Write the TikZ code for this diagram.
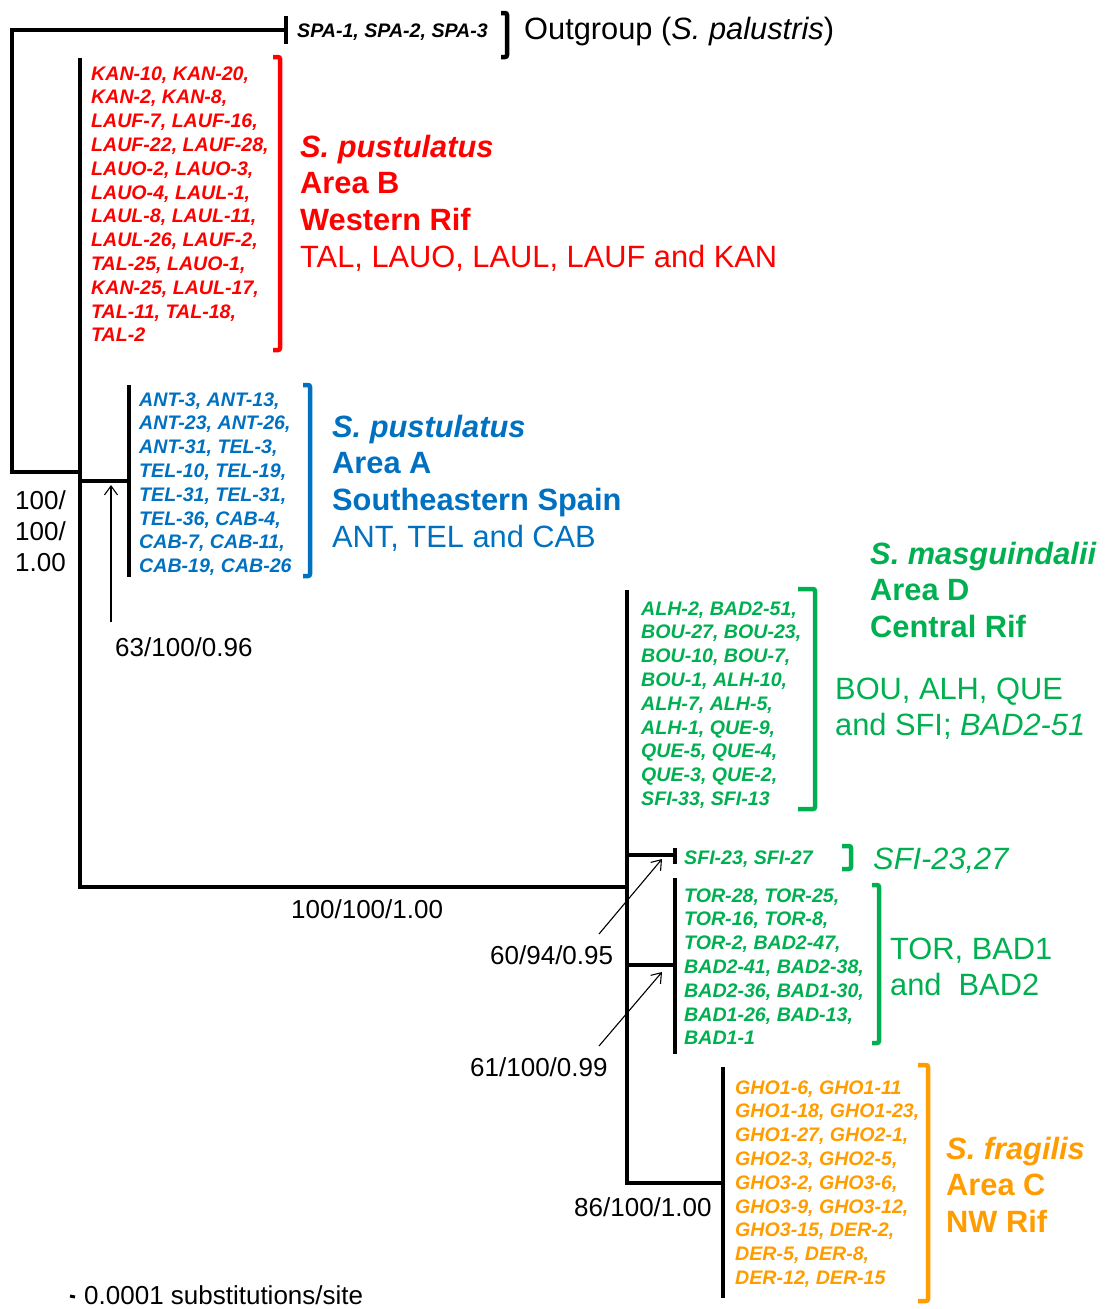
\documentclass[tikz,border=0pt]{standalone}
\usepackage{fontspec}
\setmainfont{Liberation Sans}
\usetikzlibrary{arrows.meta}
\definecolor{cRed}{HTML}{FF0000}
\definecolor{cBlue}{HTML}{0070C0}
\definecolor{cGreen}{HTML}{00B050}
\definecolor{cOrange}{HTML}{FF9C00}
\newcommand\fSmall{\fontsize{19.6}{23.8}\selectfont\bfseries\itshape}
\newcommand\fBig{\fontsize{30.8}{36.7}\selectfont}
\newcommand\fNum{\fontsize{26}{31}\selectfont}
\tikzset{
  tree/.style={line width=4.3pt, black},
  brk/.style={line width=4.5pt, rounded corners=2pt},
  lbl/.style={anchor=base west, inner sep=0pt, align=left, font=\fSmall},
  big/.style={anchor=base west, inner sep=0pt, align=left, font=\fBig},
  num/.style={anchor=base west, inner sep=0pt, align=left, font=\fNum},
  sup/.style={line width=1.1pt, -{Straight Barb[length=9pt,width=13pt,line width=1.1pt]}}
}
\begin{document}
\begin{tikzpicture}[x=1pt,y=-1pt]
\useasboundingbox (0,0) rectangle (1109,1309);
% ---------- tree coordinates ----------
\coordinate (rootT) at (12,30);
\coordinate (rootB) at (12,472);
\coordinate (outTip) at (286,30);
\coordinate (nB) at (80,472);
\coordinate (nBtop) at (80,58);
\coordinate (nBbot) at (80,887);
\coordinate (nA) at (80,481);
\coordinate (barA) at (129,481);
\coordinate (nR) at (627,887);
\coordinate (nRtop) at (627,590);
\coordinate (nRbot) at (627,1183);
\coordinate (nS) at (627,855);
\coordinate (tipS) at (675,855);
\coordinate (nT) at (627,965);
\coordinate (barT) at (675,965);
\coordinate (barC) at (723,1183);
% ---------- tree ----------
\draw[tree] (outTip) -- (rootT) -- (rootB) -- (nB);
\draw[tree] (286,16) -- (286,44);
\draw[tree] (nBtop) -- (nBbot) -- (nR);
\draw[tree] (nA) -- (barA);
\draw[tree] (129,385) -- (129,577);
\draw[tree] (nRtop) -- (nRbot) -- (barC);
\draw[tree] (nS) -- (tipS);
\draw[tree] (675,848) -- (675,864);
\draw[tree] (nT) -- (barT);
\draw[tree] (675,878) -- (675,1054);
\draw[tree] (723,1067) -- (723,1298);
% ---------- tip labels (anchor = baseline of LAST line) ----------
\node[lbl] (sp) at (297,37) {SPA-1, SPA-2, SPA-3};
\node[lbl, text=cRed] (redL) at (91,341.8) {KAN-10, KAN-20,\\KAN-2, KAN-8,\\LAUF-7, LAUF-16,\\LAUF-22, LAUF-28,\\LAUO-2, LAUO-3,\\LAUO-4, LAUL-1,\\LAUL-8, LAUL-11,\\LAUL-26, LAUF-2,\\TAL-25, LAUO-1,\\KAN-25, LAUL-17,\\TAL-11, TAL-18,\\TAL-2};
\node[lbl, text=cBlue] (blueL) at (139,572.6) {ANT-3, ANT-13,\\ANT-23, ANT-26,\\ANT-31, TEL-3,\\TEL-10, TEL-19,\\TEL-31, TEL-31,\\TEL-36, CAB-4,\\CAB-7, CAB-11,\\CAB-19, CAB-26};
\node[lbl, text=cGreen] (dL) at (641,805.4) {ALH-2, BAD2-51,\\BOU-27, BOU-23,\\BOU-10, BOU-7,\\BOU-1, ALH-10,\\ALH-7, ALH-5,\\ALH-1, QUE-9,\\QUE-5, QUE-4,\\QUE-3, QUE-2,\\SFI-33, SFI-13};
\node[lbl, text=cGreen] (sL) at (684,864) {SFI-23, SFI-27};
\node[lbl, text=cGreen] (tL) at (684,1044.8) {TOR-28, TOR-25,\\TOR-16, TOR-8,\\TOR-2, BAD2-47,\\BAD2-41, BAD2-38,\\BAD2-36, BAD1-30,\\BAD1-26, BAD-13,\\BAD1-1};
\node[lbl, text=cOrange] (oL) at (735,1284.4) {GHO1-6, GHO1-11\\GHO1-18, GHO1-23,\\GHO1-27, GHO2-1,\\GHO2-3, GHO2-5,\\GHO3-2, GHO3-6,\\GHO3-9, GHO3-12,\\GHO3-15, DER-2,\\DER-5, DER-8,\\DER-12, DER-15};
% ---------- brackets ----------
\draw[brk] (501,13) -- (507,13) -- (507,57) -- (501,57);
\draw[brk, cRed] (273,57) -- (280,57) -- (280,350) -- (273,350);
\draw[brk, cBlue] (303,385) -- (310,385) -- (310,576) -- (303,576);
\draw[brk, cGreen] (798,589) -- (815,589) -- (815,809) -- (798,809);
\draw[brk, cGreen] (842,846) -- (851,846) -- (851,869) -- (842,869);
\draw[brk, cGreen] (872,885) -- (879,885) -- (879,1043) -- (872,1043);
\draw[brk, cOrange] (918,1065) -- (928,1065) -- (928,1301) -- (918,1301);
% ---------- group labels ----------
\node[big] (og) at (524,39) {Outgroup (\textit{S. palustris})};
\node[big, text=cRed] (redT) at (300,267.1) {\textbf{\textit{S. pustulatus}}\\\textbf{Area B}\\\textbf{Western Rif}\\TAL, LAUO, LAUL, LAUF and KAN};
\node[big, text=cBlue] (blueT) at (332,547.1) {\textbf{\textit{S. pustulatus}}\\\textbf{Area A}\\\textbf{Southeastern Spain}\\ANT, TEL and CAB};
\node[big, text=cGreen] (dT) at (870,637.4) {\textbf{\textit{S. masguindalii}}\\\textbf{Area D}\\\textbf{Central Rif}};
\node[big, text=cGreen] (dT2) at (835,735.7) {BOU, ALH, QUE\\and SFI; \textit{BAD2-51}};
\node[big, text=cGreen] (sT) at (873,869) {\textit{SFI-23,27}};
\node[big, text=cGreen] (tT) at (890,995.7) {TOR, BAD1\\and\ \ BAD2};
\node[big, text=cOrange] (oT) at (946,1232.4) {\textbf{\textit{S. fragilis}}\\\textbf{Area C}\\\textbf{NW Rif}};
% ---------- support values ----------
\node[num] (s1) at (15,571) {100/\\100/\\1.00};
\node[num] (s2) at (115,656) {63/100/0.96};
\node[num] (s3) at (291,918) {100/100/1.00};
\node[num] (s4) at (490,964) {60/94/0.95};
\node[num] (s5) at (470,1076) {61/100/0.99};
\node[num] (s6) at (574,1216) {86/100/1.00};
\coordinate (a1s) at (111,622);
\coordinate (a1e) at (111,485);
\coordinate (a2s) at (599,934);
\coordinate (a2e) at (662,859);
\coordinate (a3s) at (599,1046);
\coordinate (a3e) at (662,972);
\draw[sup] (a1s) -- (a1e);
\draw[sup] (a2s) -- (a2e);
\draw[sup] (a3s) -- (a3e);
% ---------- scale ----------
\coordinate (sc1) at (70,1296);
\coordinate (sc2) at (75,1297);
\draw[line width=3pt] (sc1) -- (sc2);
\node[num] (scl) at (84,1304) {0.0001 substitutions/site};
\end{tikzpicture}
\end{document}
